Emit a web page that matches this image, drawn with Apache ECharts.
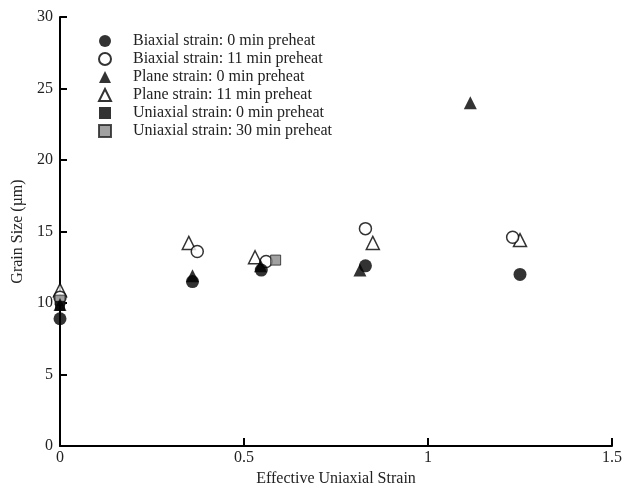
<!DOCTYPE html>
<html>
<head>
<meta charset="utf-8">
<script src="https://cdn.jsdelivr.net/npm/echarts@6/dist/echarts.min.js"></script>
<style>
  html, body { margin: 0; padding: 0; background: #fff; }
  #chart { width: 624px; height: 490px; }
</style>
</head>
<body>
<div id="chart"></div>
<script>
// 各组数据 [等效单轴应变, 晶粒尺寸]
const biaxial0 = [[0, 8.9], [0.36, 11.5], [0.547, 12.3], [0.83, 12.6], [1.25, 12.0]]
const biaxial11 = [[0, 10.4], [0.373, 13.6], [0.56, 12.9], [0.83, 15.2], [1.23, 14.6]]
const plane0 = [[0, 9.9], [0.36, 11.9], [0.545, 12.6], [0.815, 12.3], [1.115, 24.0]]
const plane11 = [[0, 10.9], [0.35, 14.2], [0.53, 13.2], [0.85, 14.2], [1.25, 14.4]]
const uniaxial0 = [[0, 9.8]]
const uniaxial30 = [[0, 10.2], [0.586, 13.0]]

const seriesNames = [
  'Biaxial strain: 0 min preheat',
  'Biaxial strain: 11 min preheat',
  'Plane strain: 0 min preheat',
  'Plane strain: 11 min preheat',
  'Uniaxial strain: 0 min preheat',
  'Uniaxial strain: 30 min preheat'
]

const font = '"Liberation Serif", "DejaVu Serif", serif'
const chart = echarts.init(document.getElementById('chart'))

function scatter(name, data, symbol, size, style) {
  return {
    name: name,
    type: 'scatter',
    data: data,
    symbol: symbol,
    symbolSize: size,
    itemStyle: style
  }
}

const filled = { color: '#000' }
const open = { color: '#fff', borderColor: '#000', borderWidth: 1.5 }

chart.setOption({
  animation: false,
  textStyle: { fontFamily: font },
  grid: { left: 60, right: 12, top: 17, bottom: 44, outerBoundsMode: 'none' },
  legend: {
    orient: 'vertical',
    left: 93,
    top: 28,
    itemWidth: 12,
    itemHeight: 12,
    itemGap: 2,
    data: seriesNames,
    textStyle: { fontFamily: font, fontSize: 16, color: '#222', padding: [0, 0, 0, 17] }
  },
  xAxis: {
    type: 'value',
    min: 0,
    max: 1.5,
    interval: 0.5,
    name: 'Effective Uniaxial Strain',
    nameLocation: 'middle',
    nameGap: 24,
    nameTextStyle: { fontFamily: font, fontSize: 16, color: '#222' },
    axisLine: { lineStyle: { color: '#000', width: 2 } },
    axisTick: { inside: true, length: 8, lineStyle: { color: '#000', width: 2 } },
    axisLabel: { fontFamily: font, fontSize: 16, color: '#222', margin: 4 },
    splitLine: { show: false }
  },
  yAxis: {
    type: 'value',
    min: 0,
    max: 30,
    interval: 5,
    name: 'Grain Size (µm)',
    nameLocation: 'middle',
    nameGap: 33,
    nameTextStyle: { fontFamily: font, fontSize: 16, color: '#222' },
    axisLine: { lineStyle: { color: '#000', width: 2 } },
    axisTick: { inside: true, length: 7, lineStyle: { color: '#000', width: 2 } },
    axisLabel: { fontFamily: font, fontSize: 16, color: '#222', margin: 7 },
    splitLine: { show: false }
  },
  series: [
    scatter(seriesNames[3], plane11, 'triangle', 13, open),
    scatter(seriesNames[1], biaxial11, 'circle', 12, open),
    scatter(seriesNames[5], uniaxial30, 'rect', 10, { color: '#8a8a8a', borderColor: '#222', borderWidth: 1 }),
    scatter(seriesNames[4], uniaxial0, 'rect', 10, filled),
    scatter(seriesNames[2], plane0, 'triangle', 13, filled),
    scatter(seriesNames[0], biaxial0, 'circle', 13, filled)
  ]
})
</script>
</body>
</html>
